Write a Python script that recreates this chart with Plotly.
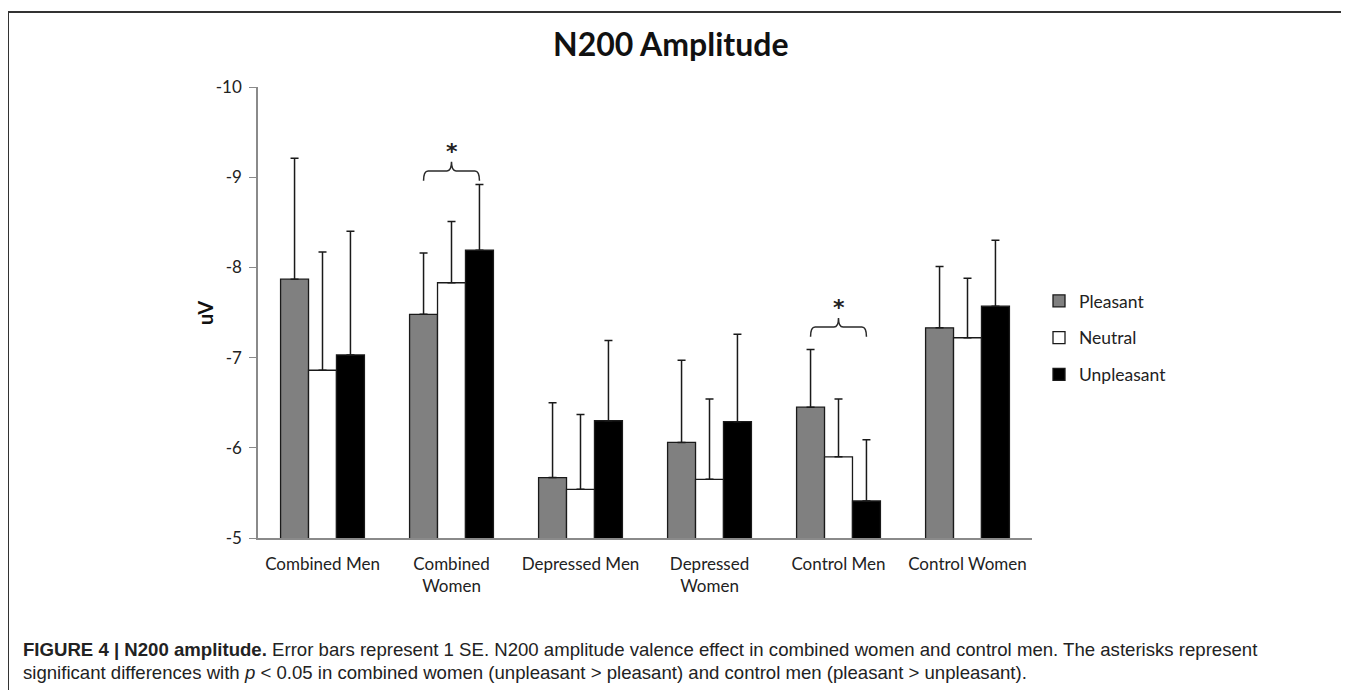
import plotly.graph_objects as go

categories = ["Combined Men", "Combined<br>Women", "Depressed Men", "Depressed<br>Women", "Control Men", "Control Women"]
series_names = ["Pleasant", "Neutral", "Unpleasant"]
pleasant = [-7.87, -7.48, -5.67, -6.06, -6.45, -7.33]
neutral = [-6.86, -7.83, -5.54, -5.65, -5.90, -7.22]
unpleasant = [-7.03, -8.19, -6.30, -6.29, -5.41, -7.57]
pleasant_se = [1.34, 0.68, 0.83, 0.91, 0.64, 0.68]
neutral_se = [1.31, 0.68, 0.83, 0.89, 0.64, 0.66]
unpleasant_se = [1.37, 0.73, 0.89, 0.97, 0.68, 0.73]
y_ticks = [-10, -9, -8, -7, -6, -5]
y_tick_labels = ["-10", "-9", "-8", "-7", "-6", "-5"]
sig_groups = [1, 4]
sig_levels = [-8.96, -7.23]

OFF = 8  # page body margin
W, H = 1349 - OFF, 690 - OFF
L, R, T, B = 258 - OFF, 1349 - 1032, 87 - OFF, 690 - 538
PW = W - L - R
PH = H - T - B


def px(p):
    return (p - OFF - L) / PW


def py(p):
    return (538 - p) / PH


colors = ["#808080", "#ffffff", "#000000"]
values = [pleasant, neutral, unpleasant]
ses = [pleasant_se, neutral_se, unpleasant_se]
xs = list(range(len(categories)))
FONT = "Lato, Open Sans, sans-serif"

fig = go.Figure()
for name, col, vals, se in zip(series_names, colors, values, ses):
    fig.add_trace(go.Bar(
        x=xs, y=vals, name=name, legendgroup=name,
        marker=dict(color=col, line=dict(color="#1a1a1a", width=1.3)),
        error_y=dict(type="data", symmetric=False, array=[0] * len(vals), arrayminus=se,
                     color="#1a1a1a", thickness=1.5, width=4),
    ))

bargap = 0.35
bw = (1 - bargap) / 3
shapes = []
annotations = []
for g, lvl in zip(sig_groups, sig_levels):
    x0 = g - bw
    x1 = g + bw
    xm = g
    d = 0.035
    yh = lvl - 0.11
    yt = lvl - 0.21
    path = (f"M {x0},{lvl} Q {x0},{yh} {x0 + d},{yh} L {xm - d},{yh} Q {xm},{yh} {xm},{yt} "
            f"Q {xm},{yh} {xm + d},{yh} L {x1 - d},{yh} Q {x1},{yh} {x1},{lvl}")
    shapes.append(dict(type="path", xref="x", yref="y", path=path,
                       line=dict(color="#2a2a2a", width=1.5)))
    annotations.append(dict(x=xm, y=yt - 0.12, xref="x", yref="y", text="<b>*</b>",
                            showarrow=False, yanchor="middle",
                            font=dict(size=22, family="DejaVu Sans, sans-serif", color="#222")))

# outer frame
shapes.append(dict(type="rect", xref="paper", yref="paper",
                   x0=px(8), x1=px(1347), y0=py(700), y1=py(12),
                   line=dict(color="#333333", width=2), fillcolor="rgba(0,0,0,0)", layer="below"))

annotations.append(dict(x=px(671), y=py(44), xref="paper", yref="paper", text="<b>N200 Amplitude</b>",
                        showarrow=False, xanchor="center", yanchor="middle",
                        font=dict(size=32, family=FONT, color="#111")))
annotations.append(dict(x=px(205), y=py(313), xref="paper", yref="paper", text="<b>uV</b>",
                        showarrow=False, textangle=-90, xanchor="center", yanchor="middle",
                        font=dict(size=20, family=FONT, color="#111")))
cap_font = dict(size=18.6, family="Liberation Sans, Arial, sans-serif", color="#222")
annotations.append(dict(x=px(21), y=py(649), xref="paper", yref="paper", xanchor="left", yanchor="middle",
                        showarrow=False, align="left", font=cap_font,
                        text="<b>FIGURE 4 | N200 amplitude.</b> Error bars represent 1 SE. N200 amplitude valence effect in combined women and control men. The asterisks represent"))
annotations.append(dict(x=px(21), y=py(672), xref="paper", yref="paper", xanchor="left", yanchor="middle",
                        showarrow=False, align="left", font=cap_font,
                        text="significant differences with <i>p</i> &lt; 0.05 in combined women (unpleasant &gt; pleasant) and control men (pleasant &gt; unpleasant)."))

fig.update_layout(
    width=W, height=H,
    margin=dict(l=L, r=R, t=T, b=B, autoexpand=False),
    paper_bgcolor="white", plot_bgcolor="white",
    barmode="group", bargap=bargap, bargroupgap=0,
    showlegend=True,
    legend=dict(x=px(1039), y=py(338), xanchor="left", yanchor="middle",
                font=dict(size=17.5, family=FONT, color="#222"),
                tracegroupgap=11, bgcolor="rgba(0,0,0,0)"),
    xaxis=dict(range=[-0.5, len(categories) - 0.5], tickvals=xs, ticktext=categories,
               showline=True, linecolor="#8a8a8a", linewidth=1.5, ticks="", showgrid=False, zeroline=False,
               ticklabelstandoff=10,
               tickfont=dict(size=17, family=FONT, color="#222")),
    yaxis=dict(range=[-5, -10], tickvals=y_ticks, ticktext=y_tick_labels,
               showline=True, linecolor="#8a8a8a", linewidth=1.5, ticks="outside", ticklen=7,
               tickcolor="#8a8a8a", showgrid=False, zeroline=False, ticklabelstandoff=4,
               tickfont=dict(size=17, family=FONT, color="#222")),
    shapes=shapes, annotations=annotations,
)

fig.write_html("out.html")
